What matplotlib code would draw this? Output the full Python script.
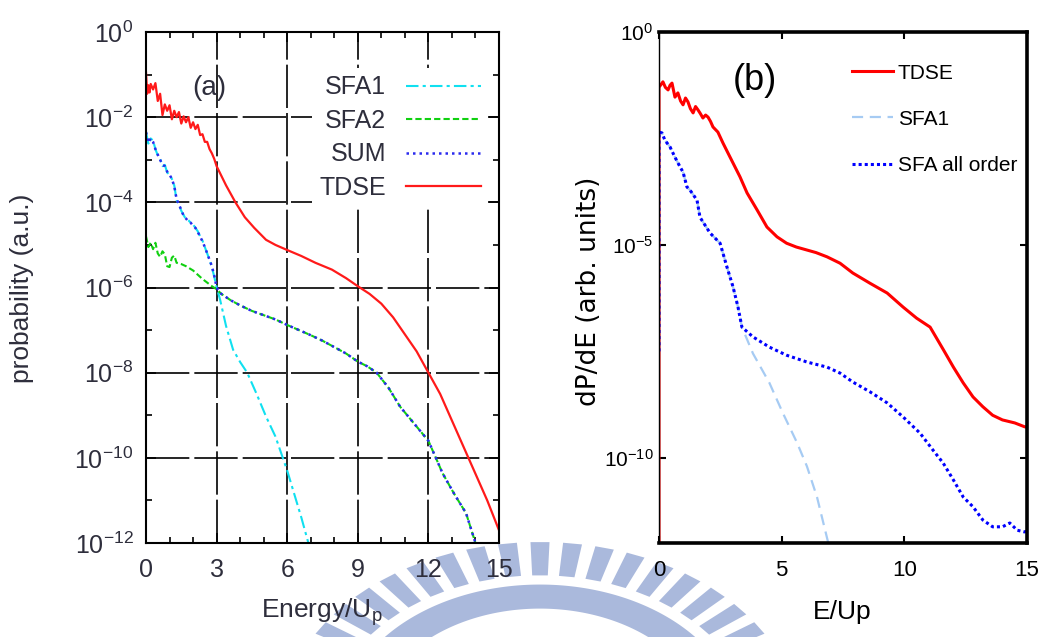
import numpy as np
import matplotlib
matplotlib.use("Agg")
import matplotlib.pyplot as plt
from matplotlib.patches import Polygon

plt.rcParams['font.family'] = ['Liberation Sans', 'DejaVu Sans']
plt.rcParams['mathtext.fontset'] = 'custom'
plt.rcParams['mathtext.rm'] = 'Liberation Sans'
plt.rcParams['mathtext.it'] = 'Liberation Sans:italic'
plt.rcParams['mathtext.default'] = 'regular'

TXT_A = '#2e2e3c'

# ---- panel (a): spectra in units of Up, log10 of probability ----
e_tdse_a = [0.0, 0.05, 0.1, 0.15, 0.2, 0.3, 0.4, 0.5, 0.6, 0.7, 0.8, 0.9, 1.0, 1.1, 1.2, 1.3,
            1.4, 1.5, 1.6, 1.7, 1.8, 1.9, 2.0, 2.1, 2.2, 2.3, 2.4, 2.5, 2.6, 2.7, 2.8, 2.9,
            3.0, 3.4, 3.8, 4.2, 4.6, 5.1, 5.5, 6.0, 6.6, 7.2, 7.9, 8.5, 9.0, 9.5, 10.0,
            10.5, 11.0, 11.5, 12.0, 12.5, 12.9, 13.3, 13.7, 14.1, 14.5, 15.0]
lg_tdse_a = [-0.95, -1.45, -1.25, -1.42, -1.22, -1.35, -1.2, -1.62, -1.45, -1.95, -1.7, -1.85,
             -1.72, -2.05, -1.85, -2.0, -1.88, -2.15, -1.98, -2.12, -2.0, -2.25, -2.12, -2.28,
             -2.18, -2.42, -2.4, -2.58, -2.58, -2.75, -2.85, -2.98, -3.15, -3.6, -4.0, -4.35,
             -4.6, -4.88, -5.0, -5.12, -5.26, -5.42, -5.58, -5.78, -5.97, -6.15, -6.38, -6.7,
             -7.1, -7.5, -8.0, -8.5, -9.0, -9.5, -10.0, -10.5, -11.0, -11.7]

e_sfa1_a = [0.0, 0.1, 0.2, 0.3, 0.4, 0.5, 0.6, 0.7, 0.8, 0.9, 1.0, 1.1, 1.2, 1.3, 1.4, 1.5,
            1.6, 1.7, 1.8, 1.9, 2.0, 2.1, 2.2, 2.3, 2.4, 2.5, 2.6, 2.7, 2.8, 2.9, 3.0, 3.15,
            3.4, 3.7, 4.0, 4.3, 4.7, 5.1, 5.5, 5.8, 6.0, 6.3, 6.6, 6.9, 7.0]
lg_sfa1_a = [-2.35, -2.62, -2.5, -2.55, -2.75, -2.9, -2.98, -3.15, -3.12, -3.3, -3.35, -3.45,
             -3.6, -3.95, -4.05, -4.2, -4.3, -4.4, -4.42, -4.48, -4.52, -4.6, -4.68, -4.8,
             -4.9, -5.05, -5.2, -5.35, -5.52, -5.75, -5.99, -6.29, -6.9, -7.46, -7.75, -8.0,
             -8.5, -9.03, -9.5, -9.98, -10.3, -10.85, -11.4, -12.0, -12.2]

e_sfa2_a = [0.0, 0.1, 0.2, 0.3, 0.4, 0.5, 0.6, 0.7, 0.8, 0.9, 1.0, 1.1, 1.2, 1.3, 1.5, 1.7,
            2.0, 2.4, 2.8, 3.0, 3.2, 3.6, 4.0, 4.5, 5.0, 5.5, 6.0, 6.5, 7.0, 7.5, 8.0, 8.5,
            9.0, 9.4, 9.8, 10.3, 10.8, 11.4, 12.0, 12.6, 13.1, 13.6, 14.0, 14.1]
lg_sfa2_a = [-4.8, -5.05, -4.95, -5.1, -4.95, -5.2, -5.28, -5.15, -5.22, -5.5, -5.52, -5.3,
             -5.25, -5.42, -5.45, -5.5, -5.6, -5.8, -5.97, -6.04, -6.15, -6.3, -6.42, -6.55,
             -6.65, -6.75, -6.88, -7.0, -7.12, -7.25, -7.4, -7.55, -7.74, -7.85, -8.0, -8.35,
             -8.8, -9.2, -9.6, -10.36, -10.85, -11.3, -12.0, -12.3]

e_sum_a = [0.0, 0.1, 0.2, 0.3, 0.4, 0.5, 0.6, 0.7, 0.8, 0.9, 1.0, 1.1, 1.2, 1.3, 1.4, 1.5,
           1.6, 1.7, 1.8, 1.9, 2.0, 2.1, 2.2, 2.3, 2.4, 2.5, 2.6, 2.7, 2.8, 2.9, 3.0, 3.2,
           3.6, 4.0, 4.5, 5.0, 5.5, 6.0, 6.5, 7.0, 7.5, 8.0, 8.5, 9.0, 9.4, 9.8, 10.3, 10.8,
           11.4, 12.0, 12.6, 13.1, 13.6, 14.0, 14.1]
lg_sum_a = [-2.35, -2.6, -2.5, -2.58, -2.75, -2.88, -3.0, -3.12, -3.15, -3.28, -3.35, -3.45,
            -3.62, -3.92, -4.05, -4.18, -4.32, -4.38, -4.45, -4.48, -4.55, -4.6, -4.7, -4.8,
            -4.92, -5.05, -5.2, -5.35, -5.5, -5.72, -6.0, -6.15, -6.3, -6.42, -6.55, -6.65,
            -6.75, -6.88, -7.0, -7.12, -7.25, -7.4, -7.55, -7.74, -7.85, -8.0, -8.35, -8.8,
            -9.2, -9.6, -10.36, -10.85, -11.3, -12.0, -12.3]

xticks_a = [0, 3, 6, 9, 12, 15]
yticks_a = [1e-12, 1e-10, 1e-8, 1e-6, 1e-4, 1e-2, 1e0]
ylabels_a = ['$10^{-12}$', '$10^{-10}$', '$10^{-8}$', '$10^{-6}$', '$10^{-4}$', '$10^{-2}$', '$10^{0}$']

# ---- panel (b) ----
e_tdse_b = [0.0, 0.0, 0.16, 0.26, 0.37, 0.45, 0.53, 0.65, 0.77, 0.88, 0.98, 1.08, 1.18, 1.28,
            1.39, 1.49, 1.59, 1.69, 1.79, 1.9, 2.0, 2.1, 2.2, 2.4, 2.61, 2.81, 3.02, 3.3, 3.59,
            4.0, 4.4, 4.81, 5.2, 5.6, 6.03, 6.4, 6.85, 7.38, 7.9, 8.6, 9.3, 9.95, 10.5, 11.05,
            11.6, 12.0, 12.4, 12.8, 13.2, 13.6, 14.0, 14.5, 14.9, 15.0]
lg_tdse_b = [-13.0, -1.3, -1.17, -1.3, -1.36, -1.25, -1.2, -1.53, -1.43, -1.62, -1.71, -1.55,
             -1.64, -1.8, -1.9, -1.75, -1.83, -1.92, -2.02, -1.95, -2.0, -2.1, -2.23, -2.35,
             -2.61, -2.84, -3.08, -3.4, -3.78, -4.18, -4.58, -4.81, -4.96, -5.05, -5.12, -5.18,
             -5.28, -5.43, -5.66, -5.9, -6.13, -6.46, -6.72, -6.93, -7.47, -7.87, -8.24, -8.57,
             -8.8, -9.0, -9.11, -9.18, -9.27, -9.28]

e_sfa1_b = [0.0, 0.0, 0.12, 0.24, 0.45, 0.65, 0.86, 0.98, 1.14, 1.26, 1.55, 1.67, 2.08, 2.49,
            2.77, 3.02, 3.22, 3.38, 3.83, 4.5, 5.05, 5.63, 6.03, 6.44, 6.9, 7.0]
lg_sfa1_b = [-7.5, -2.35, -2.37, -2.54, -2.7, -2.94, -3.17, -3.29, -3.64, -3.71, -3.95, -4.35,
             -4.72, -4.96, -5.52, -5.99, -6.46, -6.93, -7.55, -8.24, -8.95, -9.65, -10.2,
             -10.92, -12.0, -12.3]

e_all_b = [0.0, 0.0, 0.12, 0.24, 0.45, 0.65, 0.86, 0.98, 1.14, 1.26, 1.55, 1.67, 2.08, 2.49,
           2.77, 3.02, 3.22, 3.38, 3.83, 4.5, 5.2, 6.03, 6.85, 7.38, 7.9, 8.6, 9.3, 9.95,
           10.64, 11.17, 11.58, 12.0, 12.4, 12.8, 13.2, 13.6, 14.0, 14.3, 14.6, 14.9, 15.0]
lg_all_b = [-7.5, -2.35, -2.37, -2.54, -2.7, -2.94, -3.17, -3.29, -3.64, -3.71, -3.95, -4.35,
            -4.72, -4.96, -5.52, -5.99, -6.46, -6.93, -7.16, -7.4, -7.59, -7.75, -7.87, -8.01,
            -8.22, -8.45, -8.71, -9.04, -9.42, -9.82, -10.12, -10.52, -10.92, -11.15, -11.46,
            -11.62, -11.62, -11.53, -11.7, -11.74, -11.72]

xticks_b = [0, 5, 10, 15]
yticks_b = [1e-10, 1e-5, 1e0]
ylabels_b = ['$10^{-10}$', '$10^{-5}$', '$10^{0}$']


def p(vals):
    return 10.0 ** np.array(vals)


W, H = 1047, 637
fig = plt.figure(figsize=(W / 100, H / 100), dpi=100)

# faint striped emblem behind the panels
bg = fig.add_axes([0, 0, 1, 1], zorder=-1)
bg.set_xlim(0, W)
bg.set_ylim(H, 0)
bg.axis('off')
cx, cy, ax_r, ay_r = 540, 727, 260, 185
mark = '#aab9dc'
for k in range(-13, 14):
    th = np.radians(90 + 7.2 * k)
    dth = np.radians(2.1)
    pts = []
    for r, t in [(0.82, th - dth), (1.0, th - dth), (1.0, th + dth), (0.82, th + dth)]:
        pts.append((cx + ax_r * r * np.cos(t), cy - ay_r * r * np.sin(t)))
    bg.add_patch(Polygon(pts, closed=True, color=mark, lw=0))
ang = np.radians(np.linspace(0, 180, 200))
outer = [(cx + ax_r * 0.77 * np.cos(t), cy - ay_r * 0.77 * np.sin(t)) for t in ang]
inner = [(cx + ax_r * 0.64 * np.cos(t), cy - ay_r * 0.64 * np.sin(t)) for t in ang[::-1]]
bg.add_patch(Polygon(outer + inner, closed=True, color=mark, lw=0))

# ---------------- (a) ----------------
ax1 = fig.add_axes([146 / W, 1 - 543 / H, 353 / W, 511 / H])
ax1.set_yscale('log')
ax1.set_xlim(0, 15)
ax1.set_ylim(1e-12, 1e0)

ax1.plot(e_sfa1_a, p(lg_sfa1_a), color='#10e0f0', lw=1.5, ls=(0, (6, 2, 1.5, 2)), label='SFA1')
ax1.plot(e_sfa2_a, p(lg_sfa2_a), color='#10d010', lw=1.5, ls=(0, (3, 1.5)), label='SFA2')
ax1.plot(e_sum_a, p(lg_sum_a), color='#2a2aee', lw=1.8, ls=(0, (1, 1.6)), label='SUM')
ax1.plot(e_tdse_a, p(lg_tdse_a), color='#ff1a1a', lw=1.6, label='TDSE')

ax1.set_xticks(xticks_a)
ax1.set_xticks(range(16), minor=True)
ax1.set_yticks(yticks_a, ylabels_a)
ax1.set_yticks([10.0 ** k for k in range(-11, 0, 2)], minor=True)
ax1.yaxis.set_minor_formatter(plt.NullFormatter())
ax1.grid(which='major', color='black', lw=1.2, ls=(0, (26, 3)))
ax1.tick_params(which='both', direction='in', top=True, right=True, width=1.2,
                labelsize=18, labelcolor=TXT_A)
ax1.tick_params(which='major', length=7)
ax1.tick_params(which='minor', length=4)
ax1.tick_params(axis='x', pad=11)
ax1.tick_params(axis='y', pad=9)
for s in ax1.spines.values():
    s.set_linewidth(1.5)

ax1.set_xlabel('Energy/U$_p$', fontsize=19, color=TXT_A, va='center')
ax1.xaxis.set_label_coords(0.499, -0.135)
ax1.set_ylabel('probability (a.u.)', fontsize=19, color=TXT_A, va='center')
ax1.yaxis.set_label_coords(-0.351, 0.499)
ax1.text(0.178, 0.890, '(a)', transform=ax1.transAxes, fontsize=20, color=TXT_A,
         ha='center', va='center')

leg1 = ax1.legend(loc='upper right', bbox_to_anchor=(0.97, 0.93), markerfirst=False,
                  fontsize=18, borderpad=0.3, borderaxespad=0, handlelength=3.0,
                  handletextpad=0.8, labelspacing=0.38, fancybox=False, framealpha=1,
                  edgecolor='none', facecolor='white')
for t in leg1.get_texts():
    t.set_color(TXT_A)

# ---------------- (b) ----------------
ax2 = fig.add_axes([659 / W, 1 - 543 / H, 368 / W, 511 / H])
ax2.set_yscale('log')
ax2.set_xlim(0, 15)
ax2.set_ylim(1e-12, 1e0)

ax2.plot(e_tdse_b, p(lg_tdse_b), color='#ff0000', lw=2.2, label='TDSE')
ax2.plot(e_sfa1_b, p(lg_sfa1_b), color='#a6cbf3', lw=1.6, ls=(0, (5, 3)), label='SFA1')
ax2.plot(e_all_b, p(lg_all_b), color='#0000ff', lw=2.2, ls=(0, (1, 1)), label='SFA all order')

ax2.set_xticks(xticks_b)
ax2.set_yticks(yticks_b, ylabels_b)
ax2.yaxis.set_minor_locator(plt.NullLocator())
ax2.tick_params(which='major', direction='in', top=True, right=True, length=5, width=1.5)
ax2.tick_params(axis='x', labelsize=16, pad=12)
ax2.tick_params(axis='y', labelsize=15, pad=4)
for side, s in ax2.spines.items():
    s.set_linewidth(1.0 if side == 'left' else 2.6)

ax2.set_xlabel('E/Up', fontsize=19, va='center')
ax2.xaxis.set_label_coords(0.497, -0.135)
ax2.set_ylabel('dP/dE (arb. units)', fontsize=19, fontfamily='DejaVu Sans', va='center')
ax2.yaxis.set_label_coords(-0.19, 0.493)
ax2.text(0.261, 0.906, '(b)', transform=ax2.transAxes, fontsize=26, ha='center', va='center')

leg2 = ax2.legend(loc='upper left', bbox_to_anchor=(0.524, 0.938), frameon=False,
                  fontsize=15, borderpad=0, borderaxespad=0,
                  handlelength=2.0, handletextpad=0.2, labelspacing=1.3)

fig.savefig('out.png', dpi=100)
